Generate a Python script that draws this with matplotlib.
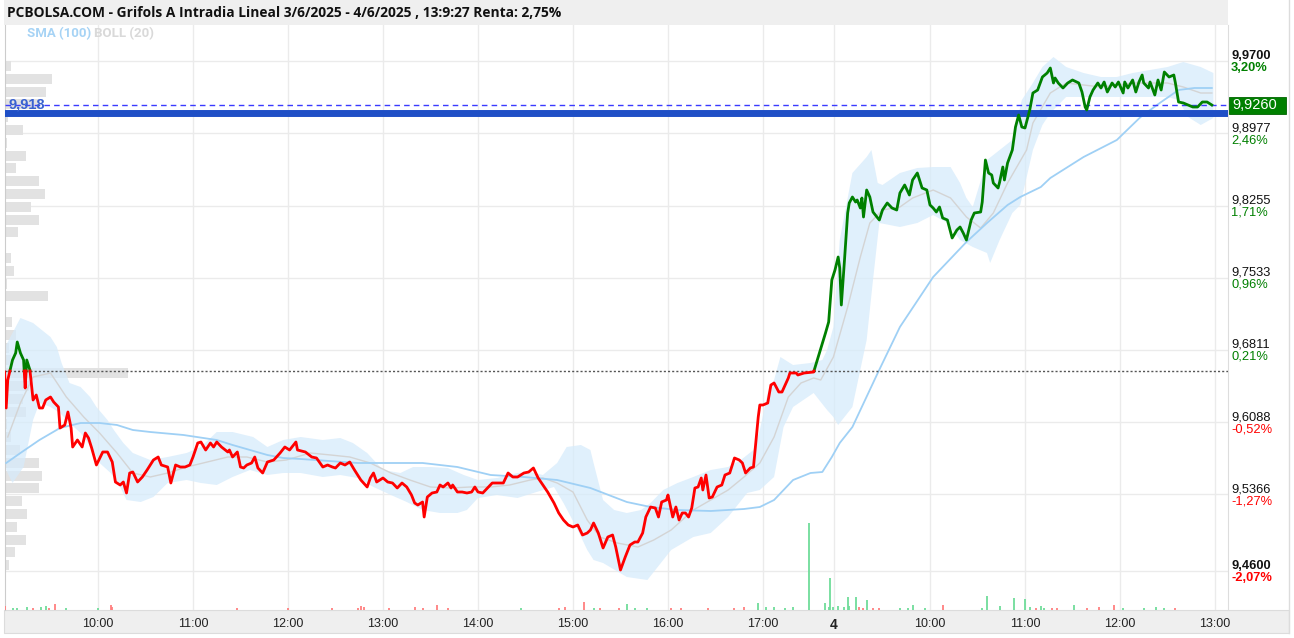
import matplotlib
matplotlib.use("Agg")
import matplotlib.pyplot as plt
import numpy as np
from matplotlib.patches import Rectangle
from matplotlib.lines import Line2D
from matplotlib.transforms import blended_transform_factory

W, H = 1294, 638

title = "PCBOLSA.COM - Grifols A Intradia Lineal 3/6/2025 - 4/6/2025 , 13:9:27 Renta: 2,75%"
ref_price = 9.66
last_price = 9.926
support_price = 9.918

# price levels on the right scale and the % change labels shown with them
levels = [9.9700, 9.8977, 9.8255, 9.7533, 9.6811, 9.6088, 9.5366, 9.4600]
level_labels = ["9,9700", "9,8977", "9,8255", "9,7533", "9,6811", "9,6088", "9,5366", "9,4600"]
pct_labels = ["3,20%", "2,46%", "1,71%", "0,96%", "0,21%", "-0,52%", "-1,27%", "-2,07%"]

# time axis: hours after 9:00 on day 1, day 2 placed right after the close
DAY2_X = 8.758
tick_day1 = [10, 11, 12, 13, 14, 15, 16, 17]
tick_day2 = [10, 11, 12, 13]

# price line, (minutes after 9:00, price)
day1_line = [
    (1, 9.659), (2, 9.623), (3, 9.651), (6, 9.671), (8, 9.678), (9, 9.689), (11, 9.678),
    (13, 9.671), (14, 9.643), (15, 9.671), (17, 9.661), (19, 9.631), (21, 9.636), (23, 9.623),
    (25, 9.623), (27, 9.631), (30, 9.634), (32, 9.629), (35, 9.624), (36, 9.603), (39, 9.606),
    (41, 9.619), (43, 9.603), (44, 9.584), (47, 9.591), (50, 9.584), (52, 9.598), (54, 9.593),
    (56, 9.583), (59, 9.566), (63, 9.579), (66, 9.579), (69, 9.569), (71, 9.549), (74, 9.546),
    (76, 9.549), (78, 9.538), (80, 9.558), (82, 9.559), (85, 9.549), (88, 9.554), (91, 9.561),
    (95, 9.571), (98, 9.574), (100, 9.566), (104, 9.564), (106, 9.548), (109, 9.566),
    (112, 9.564), (115, 9.564), (118, 9.566), (120, 9.574), (123, 9.588), (125, 9.589),
    (128, 9.581), (131, 9.588), (133, 9.584), (135, 9.589), (138, 9.584), (142, 9.579),
    (143, 9.581), (145, 9.574), (148, 9.579), (150, 9.564), (152, 9.563), (154, 9.566),
    (157, 9.568), (159, 9.574), (161, 9.563), (164, 9.558), (167, 9.569), (171, 9.571),
    (175, 9.578), (178, 9.584), (181, 9.581), (185, 9.589), (186, 9.581), (191, 9.579),
    (195, 9.574), (198, 9.573), (202, 9.564), (205, 9.566), (208, 9.564), (210, 9.563),
    (213, 9.568), (216, 9.566), (219, 9.569), (222, 9.561), (226, 9.551), (230, 9.544),
    (232, 9.553), (234, 9.558), (236, 9.549), (240, 9.553), (243, 9.549), (246, 9.548),
    (249, 9.543), (252, 9.548), (255, 9.544), (258, 9.536), (260, 9.528), (262, 9.526),
    (265, 9.529), (266, 9.514), (268, 9.534), (271, 9.538), (274, 9.539), (276, 9.546),
    (278, 9.544), (281, 9.548), (283, 9.543), (284, 9.546), (287, 9.539), (290, 9.539),
    (293, 9.538), (296, 9.539), (298, 9.544), (300, 9.539), (303, 9.538), (306, 9.543),
    (309, 9.548), (312, 9.548), (316, 9.548), (319, 9.558), (322, 9.554), (325, 9.554),
    (329, 9.558), (332, 9.559), (335, 9.563), (338, 9.553), (341, 9.546), (344, 9.539),
    (348, 9.528), (351, 9.518), (354, 9.511), (357, 9.506), (360, 9.504), (363, 9.506),
    (366, 9.496), (369, 9.498), (371, 9.501), (373, 9.508), (376, 9.498), (379, 9.483),
    (382, 9.494), (385, 9.496), (387, 9.484), (390, 9.461), (393, 9.474), (396, 9.486),
    (399, 9.489), (401, 9.489), (404, 9.498), (406, 9.514), (409, 9.524), (412, 9.523),
    (414, 9.514), (416, 9.529), (419, 9.531), (420, 9.536), (423, 9.514), (425, 9.524),
    (427, 9.511), (429, 9.518), (431, 9.518), (433, 9.514), (435, 9.523), (437, 9.543),
    (439, 9.544), (441, 9.553), (442, 9.541), (444, 9.556), (446, 9.533), (448, 9.534),
    (451, 9.544), (454, 9.546), (456, 9.556), (459, 9.558), (462, 9.573), (465, 9.571),
    (467, 9.568), (469, 9.558), (472, 9.563), (474, 9.564), (477, 9.614), (478, 9.626),
    (480, 9.626), (483, 9.628), (485, 9.646), (487, 9.648), (490, 9.639), (492, 9.639),
    (496, 9.653), (497, 9.658), (501, 9.658), (502, 9.656), (506, 9.658), (512, 9.659),
]
day2_line = [
    (-6, 9.698), (-4, 9.709), (-2, 9.751), (0, 9.761), (2, 9.774), (3, 9.763), (4, 9.726),
    (6, 9.771), (8, 9.818), (9, 9.828), (11, 9.834), (13, 9.829), (14, 9.831), (16, 9.823),
    (17, 9.833), (18, 9.814), (20, 9.841), (22, 9.834), (24, 9.819), (27, 9.813), (28, 9.811),
    (30, 9.821), (33, 9.828), (36, 9.823), (39, 9.821), (41, 9.838), (44, 9.846), (47, 9.836),
    (49, 9.851), (52, 9.858), (55, 9.843), (58, 9.841), (60, 9.826), (62, 9.823), (64, 9.819),
    (66, 9.824), (68, 9.813), (71, 9.811), (74, 9.793), (77, 9.801), (79, 9.804), (81, 9.798),
    (83, 9.791), (86, 9.811), (88, 9.818), (92, 9.819), (93, 9.829), (95, 9.871), (97, 9.858),
    (99, 9.856), (100, 9.848), (103, 9.843), (104, 9.849), (106, 9.864), (107, 9.851),
    (109, 9.868), (112, 9.881), (114, 9.904), (116, 9.916), (118, 9.904), (120, 9.903),
    (123, 9.921), (125, 9.938), (128, 9.941), (131, 9.954), (134, 9.958), (136, 9.963),
    (138, 9.948), (139, 9.953), (141, 9.948), (144, 9.943), (147, 9.948), (150, 9.951),
    (154, 9.948), (156, 9.939), (158, 9.924), (159, 9.921), (161, 9.934), (163, 9.941),
    (166, 9.948), (168, 9.943), (170, 9.949), (172, 9.939), (175, 9.948), (177, 9.944),
    (179, 9.949), (182, 9.938), (183, 9.949), (185, 9.943), (188, 9.951), (190, 9.939),
    (192, 9.949), (194, 9.956), (195, 9.948), (198, 9.943), (199, 9.949), (202, 9.936),
    (204, 9.951), (206, 9.941), (208, 9.959), (211, 9.954), (214, 9.956), (215, 9.948),
    (217, 9.929), (220, 9.928), (223, 9.926), (226, 9.924), (229, 9.924), (232, 9.929),
    (235, 9.929), (238, 9.926),
]

# SMA(100)
day1_sma = [
    (2, 9.568), (11, 9.578), (23, 9.591), (36, 9.603), (49, 9.608), (61, 9.608), (72, 9.606),
    (82, 9.601), (93, 9.599), (114, 9.596), (135, 9.591), (145, 9.586), (156, 9.581),
    (167, 9.576), (177, 9.573), (188, 9.572), (224, 9.568), (265, 9.568), (287, 9.564),
    (308, 9.556), (329, 9.554), (350, 9.551), (371, 9.543), (394, 9.529), (409, 9.524),
    (426, 9.521), (447, 9.520), (468, 9.522), (478, 9.524), (487, 9.531), (499, 9.551),
    (510, 9.558),
]
day2_sma = [
    (-8, 9.559), (-2, 9.574), (3, 9.588), (11, 9.604), (27, 9.658), (41, 9.704), (62, 9.754),
    (83, 9.789), (96, 9.808), (109, 9.826), (117, 9.834), (130, 9.844), (136, 9.853),
    (157, 9.874), (178, 9.891), (193, 9.914), (206, 9.929), (217, 9.941), (227, 9.943),
    (238, 9.943),
]

# BOLL(20) upper / lower band and middle line
day1_upper = [
    (2, 9.686), (11, 9.713), (19, 9.708), (30, 9.694), (34, 9.684), (37, 9.668), (42, 9.648),
    (49, 9.644), (55, 9.634), (59, 9.624), (66, 9.611), (70, 9.601), (76, 9.588), (82, 9.578),
    (93, 9.571), (104, 9.574), (116, 9.578), (125, 9.584), (135, 9.599), (145, 9.599),
    (158, 9.594), (167, 9.584), (177, 9.591), (188, 9.594), (202, 9.591), (213, 9.593),
    (221, 9.588), (230, 9.578), (240, 9.561), (251, 9.558), (259, 9.564), (270, 9.564),
    (281, 9.563), (291, 9.556), (300, 9.551), (312, 9.553), (325, 9.558), (333, 9.559),
    (341, 9.556), (350, 9.568), (356, 9.584), (365, 9.586), (371, 9.581), (373, 9.568),
    (379, 9.531), (386, 9.521), (394, 9.518), (403, 9.521), (409, 9.528), (417, 9.541),
    (426, 9.548), (436, 9.554), (447, 9.561), (458, 9.564), (466, 9.571), (474, 9.581),
    (478, 9.601), (483, 9.638), (487, 9.651), (491, 9.674), (499, 9.666), (510, 9.668),
]
day2_upper = [
    (-8, 9.671), (-5, 9.681), (-1, 9.704), (3, 9.791), (11, 9.858), (20, 9.874), (23, 9.881),
    (27, 9.848), (30, 9.846), (41, 9.858), (52, 9.863), (62, 9.864), (73, 9.864), (79, 9.848),
    (83, 9.833), (87, 9.824), (96, 9.871), (104, 9.881), (112, 9.891), (118, 9.931),
    (125, 9.948), (131, 9.964), (138, 9.974), (146, 9.964), (157, 9.958), (168, 9.954),
    (178, 9.954), (188, 9.958), (199, 9.961), (210, 9.964), (220, 9.969), (231, 9.964),
    (239, 9.958),
]
day1_lower = [
    (2, 9.561), (6, 9.548), (13, 9.564), (19, 9.611), (23, 9.628), (30, 9.624), (36, 9.618),
    (42, 9.608), (49, 9.598), (57, 9.581), (61, 9.568), (68, 9.558), (74, 9.544), (78, 9.531),
    (87, 9.529), (95, 9.534), (104, 9.548), (116, 9.551), (125, 9.548), (135, 9.546),
    (145, 9.554), (156, 9.561), (167, 9.556), (177, 9.558), (188, 9.558), (202, 9.554),
    (213, 9.556), (224, 9.553), (234, 9.544), (245, 9.536), (255, 9.529), (265, 9.521),
    (276, 9.518), (287, 9.518), (293, 9.521), (300, 9.533), (312, 9.536), (325, 9.533),
    (337, 9.539), (348, 9.544), (354, 9.528), (363, 9.501), (369, 9.481), (373, 9.471),
    (379, 9.468), (394, 9.454), (407, 9.451), (422, 9.481), (436, 9.494), (447, 9.498),
    (458, 9.514), (470, 9.538), (478, 9.541), (487, 9.554), (493, 9.604), (499, 9.624),
    (512, 9.638),
]
day2_lower = [
    (-5, 9.621), (-1, 9.614), (2, 9.606), (11, 9.624), (20, 9.691), (24, 9.751), (28, 9.808),
    (41, 9.804), (52, 9.808), (62, 9.816), (71, 9.808), (79, 9.791), (87, 9.784), (96, 9.778),
    (98, 9.768), (104, 9.791), (112, 9.818), (117, 9.826), (125, 9.881), (131, 9.906),
    (136, 9.918), (146, 9.934), (168, 9.934), (188, 9.934), (210, 9.934), (217, 9.931),
    (223, 9.914), (231, 9.906), (239, 9.913),
]
day1_mid = [
    (3, 9.594), (11, 9.628), (19, 9.654), (30, 9.658), (40, 9.634), (51, 9.614), (61, 9.598),
    (72, 9.578), (82, 9.558), (93, 9.554), (104, 9.558), (116, 9.564), (129, 9.569),
    (142, 9.574), (154, 9.574), (167, 9.569), (179, 9.571), (194, 9.578), (207, 9.576),
    (219, 9.574), (232, 9.568), (245, 9.558), (257, 9.551), (270, 9.544), (283, 9.543),
    (295, 9.544), (308, 9.544), (320, 9.546), (333, 9.551), (341, 9.553), (350, 9.548),
    (360, 9.539), (369, 9.511), (377, 9.494), (388, 9.488), (401, 9.484), (411, 9.491),
    (422, 9.501), (436, 9.521), (447, 9.531), (458, 9.541), (468, 9.554), (478, 9.568),
    (487, 9.594), (496, 9.634), (504, 9.648), (512, 9.653),
]
day2_mid = [
    (-9, 9.651), (-1, 9.674), (8, 9.724), (16, 9.774), (22, 9.808), (30, 9.821), (41, 9.824),
    (49, 9.833), (62, 9.841), (73, 9.833), (83, 9.814), (92, 9.803), (100, 9.818),
    (109, 9.848), (121, 9.881), (125, 9.908), (136, 9.938), (146, 9.948), (168, 9.944),
    (188, 9.948), (210, 9.948), (220, 9.944), (231, 9.938), (238, 9.938),
]

# traded volume, (minutes after 9:00, volume, up/down)
day1_vol = [
    (1, 4, 'r'), (6, 2, 'g'), (9, 2, 'g'), (15, 3, 'g'), (19, 2, 'r'), (24, 3, 'g'), (27, 4, 'g'),
    (29, 2, 'r'), (33, 6, 'r'), (40, 2, 'g'), (60, 2, 'g'), (68, 5, 'r'), (69, 3, 'r'),
    (148, 2, 'r'), (180, 2, 'r'), (208, 2, 'r'), (224, 2, 'r'), (226, 4, 'r'), (228, 3, 'r'),
    (244, 2, 'r'), (260, 3, 'r'), (265, 2, 'r'), (274, 5, 'r'), (281, 2, 'r'), (327, 2, 'g'),
    (351, 2, 'r'), (355, 3, 'r'), (367, 8, 'r'), (373, 2, 'g'), (377, 2, 'r'), (389, 2, 'r'),
    (394, 6, 'g'), (399, 2, 'g'), (407, 2, 'g'), (422, 2, 'r'), (428, 2, 'r'), (445, 2, 'r'),
    (462, 2, 'r'), (468, 3, 'r'), (477, 7, 'g'), (482, 3, 'g'), (487, 3, 'g'), (494, 2, 'g'),
    (499, 3, 'g'), (509, 87, 'g'),
]
day2_vol = [
    (-6, 7, 'g'), (-4, 3, 'g'), (-3, 32, 'g'), (-1, 3, 'g'), (2, 4, 'g'), (6, 3, 'g'),
    (8, 13, 'g'), (9, 4, 'g'), (13, 13, 'g'), (15, 3, 'r'), (18, 2, 'r'), (20, 10, 'g'),
    (24, 2, 'r'), (28, 2, 'r'), (41, 2, 'g'), (46, 2, 'g'), (49, 5, 'g'), (57, 2, 'g'),
    (68, 5, 'r'), (93, 2, 'g'), (96, 14, 'g'), (104, 4, 'g'), (113, 12, 'g'), (120, 11, 'g'),
    (123, 3, 'g'), (127, 2, 'r'), (130, 4, 'g'), (132, 2, 'g'), (137, 2, 'r'), (140, 2, 'r'),
    (151, 5, 'g'), (159, 2, 'r'), (167, 3, 'r'), (176, 5, 'r'), (182, 2, 'g'), (195, 2, 'g'),
    (203, 3, 'g'), (208, 2, 'g'), (215, 2, 'r'),
]

# volume profile on the left (price, volume)
profile_price = [9.965, 9.952, 9.939, 9.927, 9.914, 9.901, 9.888, 9.875, 9.863, 9.850,
                 9.837, 9.824, 9.811, 9.799, 9.786, 9.773, 9.760, 9.747, 9.735, 9.722,
                 9.709, 9.696, 9.683, 9.671, 9.658, 9.645, 9.632, 9.619, 9.607, 9.594,
                 9.581, 9.568, 9.555, 9.543, 9.530, 9.517, 9.504, 9.491, 9.479, 9.466]
profile_vol = [6, 47, 41, 35, 3, 18, 2, 21, 11, 34,
               40, 26, 34, 13, 1, 6, 9, 2, 43, 1,
               7, 11, 4, 6, 123, 24, 18, 21, 2, 6,
               15, 34, 37, 34, 17, 22, 12, 21, 10, 4]


def xy(day1, day2):
    x = [t / 60.0 for t, *_ in day1] + [DAY2_X + t / 60.0 for t, *_ in day2]
    y = [r[1] for r in day1] + [r[1] for r in day2]
    return np.array(x), np.array(y)


def fx(px):
    return px / W


def fy(py):
    return 1 - py / H


fig = plt.figure(figsize=(W / 100, H / 100), dpi=100)
fig.patch.set_facecolor('white')

# title bar and bottom time bar
fig.add_artist(Rectangle((fx(4), fy(25)), (1228 - 4) / W, 25 / H, transform=fig.transFigure,
                         fc='#efefef', ec='none', zorder=-2))
fig.add_artist(Rectangle((fx(4), fy(633)), (1289 - 4) / W, 23 / H, transform=fig.transFigure,
                         fc='#efefef', ec='#dcdcdc', lw=0.8, zorder=-2))
fig.add_artist(Line2D([fx(1289), fx(1289)], [fy(0), fy(633)], transform=fig.transFigure,
                      color='#dcdcdc', lw=1, zorder=-1))
fig.text(fx(7), fy(13), title, ha='left', va='center', fontsize=9.9, fontweight='bold',
         family='Open Sans', color='#111111')
fig.text(fx(27), fy(34), "SMA (100)", ha='left', va='center', fontsize=9.5, fontweight='bold',
         family='Roboto', color='#a6d3f5')
fig.text(fx(94), fy(34), "BOLL (20)", ha='left', va='center', fontsize=9.5, fontweight='bold',
         family='Roboto', color='#d9d9d9')

ax = fig.add_axes([fx(5), fy(610), (1228 - 5) / W, (610 - 25) / H])
ax.set_xlim(0.021, 12.895)
ax.set_ylim(9.421, 10.006)
ax.set_facecolor('none')

# grid
xt = [h - 9 for h in tick_day1] + [DAY2_X - 0.012] + [DAY2_X + h - 9 for h in tick_day2]
xl = [f"{h}:00" for h in tick_day1] + ["4"] + [f"{h}:00" for h in tick_day2]
ax.set_xticks(xt)
ax.set_xticklabels(xl, family='Liberation Sans', fontsize=9, color='#222222')
ax.get_xticklabels()[len(tick_day1)].set_fontweight('bold')
ax.get_xticklabels()[len(tick_day1)].set_fontsize(10)
ax.set_yticks(levels)
ax.tick_params(length=0, labelleft=False, pad=6)
ax.grid(True, color='#ebebeb', lw=1)
ax.set_axisbelow(True)
for s in ['top', 'bottom']:
    ax.spines[s].set_visible(False)
ax.spines['left'].set_color('#cccccc')
ax.spines['right'].set_color('#dddddd')

# volume profile
tr_prof = blended_transform_factory(ax.transAxes, ax.transData)
ax_w = 1228 - 5
for p, v in zip(profile_price, profile_vol):
    ax.add_patch(Rectangle((0, p - 0.0052), v / ax_w, 0.0104, transform=tr_prof,
                           fc='#e2e2e2', ec='none', zorder=1))

# bollinger band
ux, uy = xy(day1_upper, day2_upper)
lx, ly = xy(day1_lower, day2_lower)
ax.fill(np.concatenate([ux, lx[::-1]]), np.concatenate([uy, ly[::-1]]),
        fc='#d6ebfb', ec='none', alpha=0.75, zorder=2)
mx, my = xy(day1_mid, day2_mid)
ax.plot(mx, my, color='#d4d4d4', lw=1, zorder=2.5)
sx, sy = xy(day1_sma, day2_sma)
ax.plot(sx, sy, color='#9fd0f5', lw=1.3, zorder=3)

# volume bars
tr_vol = blended_transform_factory(ax.transData, ax.transAxes)
vx, _ = xy(day1_vol, day2_vol)
vh = np.array([r[1] for r in day1_vol + day2_vol]) / (610 - 25)
vc = ['#6fdc9a' if r[2] == 'g' else '#ff7f7f' for r in day1_vol + day2_vol]
ax.vlines(vx, 0, vh, colors=vc, lw=1.3, transform=tr_vol, zorder=3)

# reference, support and last price lines
ax.axhline(ref_price, color='#555555', lw=1, ls=(0, (1.5, 1.5)), zorder=4)
ax.axhline(support_price, color='#1f4fc6', lw=5, zorder=4)
ax.axhline(last_price, color='#3a3aff', lw=1, ls=(0, (4, 3)), zorder=4.5)
ax.text(0.0025, support_price + 0.0085, "9,918", transform=tr_prof, ha='left', va='center',
        fontsize=10.5, fontweight='bold', color='#3a62d0', family='Liberation Sans', zorder=6)

# price line, green above the previous close and red below
px_, py_ = xy(day1_line, day2_line)
xs, ys = [px_[0]], [py_[0]]
for i in range(1, len(px_)):
    a, b = py_[i - 1] - ref_price, py_[i] - ref_price
    if a * b < 0:
        f = a / (a - b)
        xs.append(px_[i - 1] + f * (px_[i] - px_[i - 1]))
        ys.append(ref_price)
    xs.append(px_[i])
    ys.append(py_[i])
xs, ys = np.array(xs), np.array(ys)
ax.plot(xs, np.where(ys >= ref_price, ys, np.nan), color='#008000', lw=2, zorder=5,
        solid_joinstyle='round')
ax.plot(xs, np.where(ys <= ref_price, ys, np.nan), color='#ff0000', lw=2, zorder=5,
        solid_joinstyle='round')

# right-hand scale
for i, (lv, lab, pct) in enumerate(zip(levels, level_labels, pct_labels)):
    bold = i in (0, len(levels) - 1)
    col = '#008000' if not pct.startswith('-') else '#ff0000'
    ax.annotate(lab, xy=(1, lv), xycoords=tr_prof, xytext=(3, 2), textcoords='offset pixels',
                ha='left', va='baseline', fontsize=9.3, family='Liberation Sans',
                color='#111111', fontweight='bold' if bold else 'normal', annotation_clip=False)
    ax.annotate(pct, xy=(1, lv), xycoords=tr_prof, xytext=(3, -1), textcoords='offset pixels',
                ha='left', va='top', fontsize=9.3, family='Liberation Sans',
                color=col, fontweight='bold' if bold else 'normal', annotation_clip=False)

# last price box
ax.add_patch(Rectangle((1 + 1 / ax_w, last_price - 0.0085), 57 / ax_w, 0.017, transform=tr_prof,
                       fc='#008000', ec='#006400', lw=0.6, clip_on=False, zorder=6))
ax.annotate("9,9260", xy=(1, last_price), xycoords=tr_prof, xytext=(4, 0),
            textcoords='offset pixels', ha='left', va='center', fontsize=10.5,
            family='Liberation Sans', color='white', annotation_clip=False, zorder=7)

fig.savefig("out.png", dpi=100)
